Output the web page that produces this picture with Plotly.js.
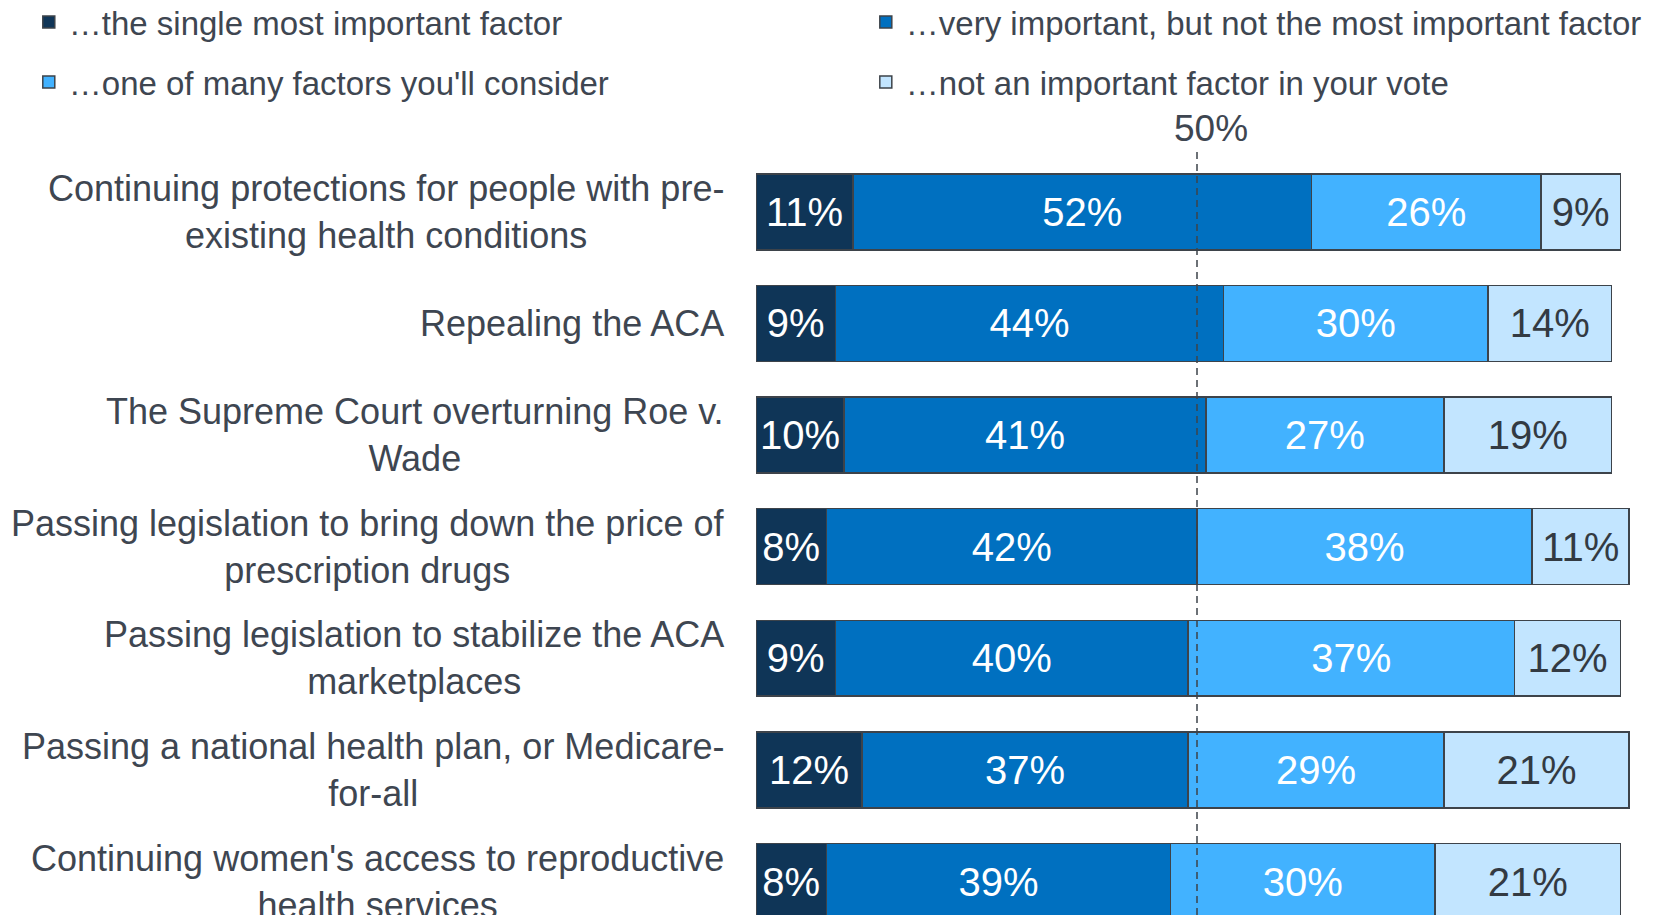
<!DOCTYPE html>
<html>
<head>
<meta charset="utf-8">
<script src="https://cdn.plot.ly/plotly-3.0.1.min.js"></script>
<style>html,body{margin:0;padding:0;background:#fff;}#chart{width:1671px;height:915px;}</style>
</head>
<body>
<div id="chart"></div>
<script>
// ---- data ----
const categories = [
  "Continuing protections for people with pre-<br>existing health conditions",
  "Repealing the ACA",
  "The Supreme Court overturning Roe v.<br>Wade",
  "Passing legislation to bring down the price of<br>prescription drugs",
  "Passing legislation to stabilize the ACA<br>marketplaces",
  "Passing a national health plan, or Medicare-<br>for-all",
  "Continuing women's access to reproductive<br>health services"
];
const seriesNames = [
  "…the single most important factor",
  "…very important, but not the most important factor",
  "…one of many factors you'll consider",
  "…not an important factor in your vote"
];
const singleMost = [11, 9, 10, 8, 9, 12, 8];
const veryImportant = [52, 44, 41, 42, 40, 37, 39];
const oneOfMany = [26, 30, 27, 38, 37, 29, 30];
const notImportant = [9, 14, 19, 11, 12, 21, 21];
const referenceValue = 50;
const referenceLabel = "50%";

// ---- styles ----
const colors = ["#0F3557", "#0070C0", "#42B2FF", "#C2E5FF"];
const textColors = ["#ffffff", "#ffffff", "#ffffff", "#333a42"];
const legendIds = ["legend", "legend2", "legend3", "legend4"];
const legendPos = [
  {x: -0.8245, y: 1.1765},
  {x: 0.1245, y: 1.1765},
  {x: -0.8245, y: 1.0975},
  {x: 0.1245, y: 1.0975}
];
const FONT = "Liberation Sans, Arial, sans-serif";
const labelColor = "#3E4651";

const yIdx = categories.map((_, i) => i);
const allSeries = [singleMost, veryImportant, oneOfMany, notImportant];

const traces = allSeries.map((vals, k) => ({
  type: "bar",
  orientation: "h",
  name: seriesNames[k],
  x: vals,
  y: yIdx,
  width: 0.68,
  legend: legendIds[k],
  marker: {color: colors[k], line: {color: "#3d434a", width: 1.5}},
  text: vals.map(v => v + "%"),
  textposition: "inside",
  insidetextanchor: "middle",
  textangle: 0,
  textfont: {family: FONT, size: 40, color: textColors[k]},
  hoverinfo: "skip"
}));

const annotations = categories.map((c, i) => ({
  xref: "paper", x: 0, xanchor: "right", xshift: -30,
  yref: "y", y: i, yanchor: "middle",
  text: c, align: "center", showarrow: false,
  font: {family: FONT, size: 36, color: labelColor}
}));
annotations.push({
  xref: "x", x: referenceValue, xanchor: "center", xshift: 14,
  yref: "paper", y: 1, yanchor: "bottom", yshift: 5,
  text: referenceLabel, showarrow: false,
  font: {family: FONT, size: 37, color: labelColor}
});

const layout = {
  width: 1671,
  height: 915,
  margin: {l: 756, r: 33, t: 156, b: 0, pad: 0, autoexpand: false},
  paper_bgcolor: "#ffffff",
  plot_bgcolor: "#ffffff",
  barmode: "stack",
  bargap: 0,
  showlegend: true,
  xaxis: {range: [0, 100], visible: false, fixedrange: true},
  yaxis: {range: [6.30, -0.5], visible: false, fixedrange: true},
  shapes: [{
    type: "line", xref: "x", x0: referenceValue, x1: referenceValue,
    yref: "paper", y0: 0, y1: 1.008, layer: "above",
    line: {color: "#3d434a", width: 1.5, dash: "7px,5px"}
  }],
  annotations: annotations
};
legendIds.forEach((id, k) => {
  layout[id] = {
    orientation: "h",
    x: legendPos[k].x, y: legendPos[k].y,
    xanchor: "left", yanchor: "middle",
    font: {family: FONT, size: 33, color: labelColor},
    bgcolor: "rgba(0,0,0,0)",
    borderwidth: 0
  };
});

Plotly.newPlot("chart", traces, layout, {displayModeBar: false, staticPlot: true});
</script>
</body>
</html>
